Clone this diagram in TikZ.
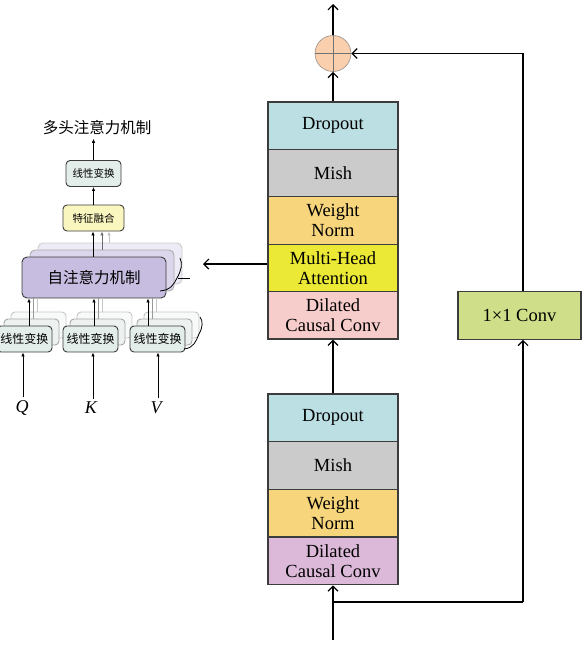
\documentclass[tikz,border=0pt]{standalone}
\usepackage{fontspec}
\setmainfont{Liberation Serif}
\newfontfamily\cjk{Noto Sans CJK SC}
\usetikzlibrary{arrows.meta}

\definecolor{cDrop}{HTML}{BCDFE3}
\definecolor{cMish}{HTML}{CBCBCB}
\definecolor{cNorm}{HTML}{F7D57C}
\definecolor{cMHA}{HTML}{EBE836}
\definecolor{cDilA}{HTML}{F7CDCB}
\definecolor{cDilB}{HTML}{DCB9D8}
\definecolor{cConv}{HTML}{CEDE89}
\definecolor{cPlus}{HTML}{F9CFAE}
\definecolor{cEdge}{HTML}{3C3C3C}
\definecolor{cAttn}{HTML}{C6BDE0}
\definecolor{cAttnB}{HTML}{DCD6EC}
\definecolor{cAttnC}{HTML}{EDEBF5}
\definecolor{cLin}{HTML}{E3EDE9}
\definecolor{cLinB}{HTML}{EDF2F0}
\definecolor{cFuse}{HTML}{FAF6C0}

\tikzset{
  blk/.style={rectangle, draw=cEdge, line width=1.2pt, inner sep=0pt,
    minimum width=130pt, align=center,
    font=\fontsize{18.5}{20}\selectfont},
  arr/.style={line width=1.2pt, -{Straight Barb[length=5pt,width=10pt]}},
  larr/.style={line width=1pt, -{Latex[length=4pt,width=3.5pt]}},
  lbox/.style={rectangle, rounded corners=4pt, draw=cEdge, line width=0.9pt,
    inner sep=0pt, minimum width=55pt, minimum height=26pt,
    font=\cjk\fontsize{10.5}{12}\selectfont},
  qkvbox/.style={lbox, fill=cLin, font=\cjk\fontsize{12}{13}\selectfont},
  lboxb/.style={lbox, fill=cLinB, draw=gray!70},
  lboxc/.style={lbox, fill=white!60!cLinB, draw=gray!45},
  abox/.style={rectangle, rounded corners=5pt, inner sep=0pt,
    minimum width=144pt, minimum height=41pt, line width=0.9pt}
}

\begin{document}
\begin{tikzpicture}[x=1pt, y=-1pt]
\useasboundingbox (0,0) rectangle (582,645);

% ---------- residual block, upper stack ----------
\node[blk, fill=cDrop, minimum height=47.4pt] (d1) at (333,125.7) {Dropout};
\node[blk, fill=cMish, minimum height=47.4pt] (m1) at (333,173.1) {Mish};
\node[blk, fill=cNorm, minimum height=47.4pt] (w1) at (333,220.5) {Weight\\Norm};
\node[blk, fill=cMHA,  minimum height=47.4pt] (mh) at (333,267.9) {Multi-Head\\Attention};
\node[blk, fill=cDilA, minimum height=47.4pt] (c1) at (333,315.3) {Dilated\\Causal Conv};

% ---------- residual block, lower stack ----------
\node[blk, fill=cDrop, minimum height=47.7pt] (d2) at (333,417.8) {Dropout};
\node[blk, fill=cMish, minimum height=47.7pt] (m2) at (333,465.5) {Mish};
\node[blk, fill=cNorm, minimum height=47.7pt] (w2) at (333,513.2) {Weight\\Norm};
\node[blk, fill=cDilB, minimum height=47.7pt] (c2) at (333,560.9) {Dilated\\Causal Conv};

% ---------- shortcut branch ----------
\node[blk, fill=cConv, minimum width=123pt, minimum height=47.4pt] (conv) at (519.5,315.5) {1\texttimes1 Conv};

% ---------- addition ----------
\node[circle, fill=cPlus, draw=gray!80!cPlus, line width=0.6pt, minimum size=36pt, inner sep=0pt] (add) at (333,53.5) {};
\draw[gray!90!black, line width=0.5pt] (add.north) -- (add.south) (add.west) -- (add.east);

\coordinate (out) at (333,4);
\coordinate (in) at (333,640);
\coordinate (split) at (333,602);
\coordinate (corner) at (523,602);
\coordinate (mhout) at (203,264);

\draw[arr] (add.north) -- (out);
\draw[arr] (d1.north) -- (add.south);
\draw[arr] (d2.north) -- (c1.south);
\draw[arr] (in) -- (c2.south);
\draw[line width=1.2pt] (split) -- (corner);
\draw[arr] (corner) -- (corner |- conv.south);
\draw[arr] (corner |- conv.north) -- (corner |- add) -- (add.east);
\draw[arr] (mh.west |- mhout) -- (mhout);

% ---------- multi-head attention detail ----------
\node[font=\cjk\fontsize{15.5}{16}\selectfont] (title) at (97,128) {多头注意力机制};
\node[lbox, fill=cLin] (lt) at (93.5,173.5) {线性变换};
\node[lbox, fill=cFuse, minimum width=61pt] (fz) at (93.5,218) {特征融合};

% stacked self-attention heads
\node[abox, fill=cAttnC, draw=gray!40] (sa3) at (110,263.5) {};
\node[abox, fill=cAttnB, draw=gray!65] (sa2) at (102,270.5) {};
\node[abox, fill=cAttn, draw=cEdge] (sa1) at (94,277.5) {};
\node[font=\cjk\fontsize{15.5}{16}\selectfont] (satext) at (sa1.center) {自注意力机制};

% stacked linear projections for Q, K, V
\node[lboxc] (q3) at (38.5,325) {};
\node[lboxb] (q2) at (31.5,332) {};
\node[qkvbox] (q1) at (24.5,339) {线性变换};
\node[lboxc] (k3) at (104.5,325) {};
\node[lboxb] (k2) at (97.5,332) {};
\node[qkvbox] (k1) at (90.5,339) {线性变换};
\node[lboxc] (v3) at (171.5,325) {};
\node[lboxb] (v2) at (164.5,332) {};
\node[qkvbox] (v1) at (157.5,339) {线性变换};

% inputs
\node[font=\itshape\fontsize{18}{18}\selectfont] (Q) at (22,408) {Q};
\node[font=\itshape\fontsize{18}{18}\selectfont] (K) at (91,408) {K};
\node[font=\itshape\fontsize{18}{18}\selectfont] (V) at (156,408) {V};
\coordinate (qx) at (23,0);
\coordinate (kx) at (93,0);
\coordinate (vx) at (158,0);
\draw[larr] (Q.north -| qx) -- (q1.south -| qx);
\draw[larr] (K.north -| kx) -- (k1.south -| kx);
\draw[larr] (V.north -| vx) -- (v1.south -| vx);

% projections into attention heads
\coordinate (qa) at (29,0);
\coordinate (ka) at (94,0);
\coordinate (va) at (148,0);
\draw[larr] (q1.north -| qa) -- (sa1.south -| qa);
\draw[larr] (k1.north -| ka) -- (sa1.south -| ka);
\draw[larr] (v1.north -| va) -- (sa1.south -| va);
\foreach \p/\x in {q/29, k/94, v/148}{
  \draw[gray!80, line width=0.9pt] (\p2.north -| {\x+4},0) -- (sa1.south -| {\x+4},0);
  \draw[gray!45, line width=0.9pt] (\p3.north -| {\x+8},0) -- (sa1.south -| {\x+8},0);
}

% heads into fusion
\coordinate (fa) at (93,0);
\coordinate (fb) at (102,0);
\coordinate (fc) at (109,0);
\draw[larr] (sa1.north -| fa) -- (fz.south -| fa);
\draw[larr, gray!85!black] (sa2.north -| fb) -- (fz.south -| fb);
\draw[larr, gray!50] (sa3.north -| fc) -- (fz.south -| fc);
\draw[larr] (fz.north) -- (lt.south);
\draw[larr] (lt.north) -- (lt.north |- title.south);

% head-count marks
\draw[line width=0.8pt] (160,291) .. controls (171,290) and (174,284) .. (177,278)
  .. controls (181,271) and (183,264) .. (180,258);
\coordinate (hm) at (190,278);
\draw[line width=0.8pt] (hm) -- ++(-12,0);
\draw[line width=0.8pt] (184,349) .. controls (194,348) and (196,341) .. (199,334)
  .. controls (203,327) and (203,321) .. (200,317);

\end{tikzpicture}
\end{document}
